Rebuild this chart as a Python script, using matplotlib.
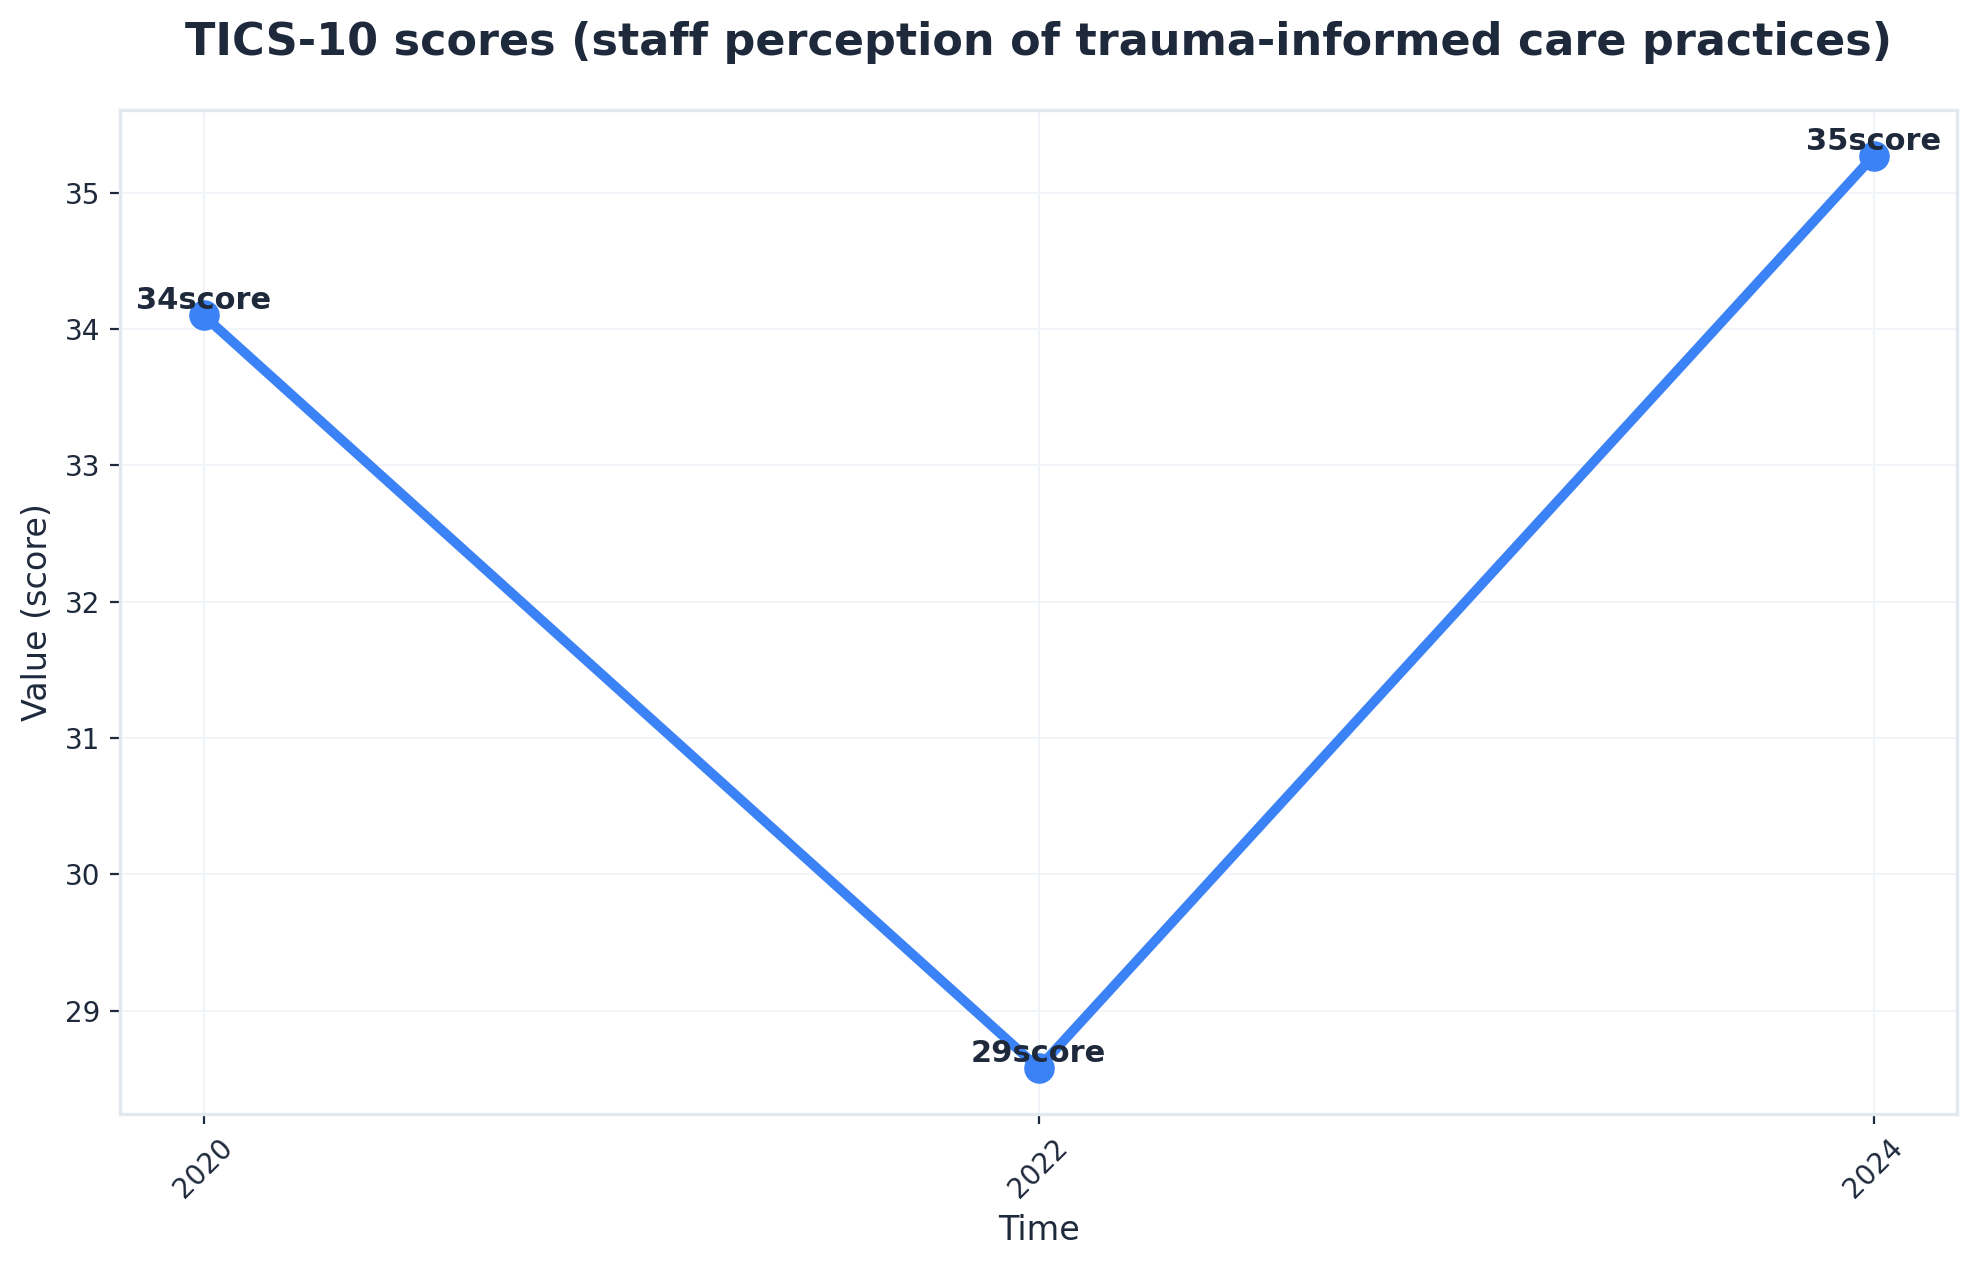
import matplotlib
matplotlib.use("Agg")
import matplotlib.pyplot as plt

years = [2020, 2022, 2024]
values = [34.10, 28.58, 35.27]
labels = ["34score", "29score", "35score"]

text_color = "#1e293b"
line_color = "#3b82f6"
spine_color = "#e2e8f0"

plt.rcParams['font.family'] = ['DejaVu Sans']
fig, ax = plt.subplots(figsize=(9.885, 6.335), dpi=200)
fig.subplots_adjust(left=0.0607, right=0.99, top=0.913, bottom=0.121)

ax.plot(years, values, color=line_color, linewidth=3.5, marker='o', markersize=10, zorder=3)
for x, y, t in zip(years, values, labels):
    ax.annotate(t, (x, y), xytext=(0, 0), textcoords='offset points', ha='center', va='bottom',
                fontsize=11, fontweight='bold', color=text_color, zorder=4)

ax.set_xticks(years)
ax.set_xticklabels([str(y) for y in years], rotation=45)
ax.set_title("TICS-10 scores (staff perception of trauma-informed care practices)",
             fontsize=16, fontweight='bold', color=text_color, pad=20)
ax.set_xlabel("Time", fontsize=12, color=text_color)
ax.set_ylabel("Value (score)", fontsize=12, color=text_color)
ax.tick_params(colors=text_color, labelsize=10)
ax.grid(True, color="#f1f5f9", linewidth=0.7)
ax.set_axisbelow(True)
for s in ax.spines.values():
    s.set_color(spine_color)
    s.set_linewidth(1.2)

fig.savefig("out.png", dpi=200)
